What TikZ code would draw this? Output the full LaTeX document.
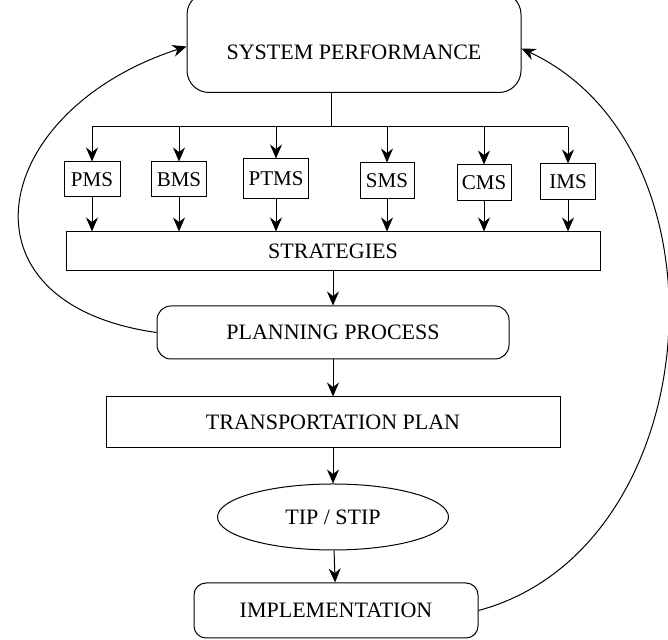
\documentclass[tikz,border=0pt]{standalone}
\usepackage{fontspec}
\setmainfont{Liberation Serif}
\usepackage{tikz}
\usetikzlibrary{calc,positioning,shapes,arrows.meta}

\begin{document}
\begin{tikzpicture}[x=0.5pt, y=0.5pt, line width=0.5pt, >={Stealth[length=7pt,width=6pt]}, font=\fontsize{11}{13}\selectfont]
\tikzstyle{blk}=[draw, rectangle, inner sep=2pt]
\tikzstyle{rnd}=[draw, rectangle, rounded corners=7pt, inner sep=2pt]
\tikzstyle{sub}=[draw, rectangle, inner sep=2pt, font=\fontsize{10.5}{12}\selectfont]
\useasboundingbox (0,0) rectangle (668,640);
\node[rnd, rounded corners=11pt, minimum width=167pt, text height=31.5pt, text depth=14.5pt, anchor=south] (sp) at (354,547) {SYSTEM PERFORMANCE};
\foreach \n/\t/\x/\y/\w/\h in {pms/PMS/92/460.5/28/17.5, bms/BMS/179/460.5/27.5/17.5, ptms/PTMS/276/461/32.5/20, sms/SMS/387/459/27/18, cms/CMS/484/457/27/18, ims/IMS/568/458/27.5/18}{\node[sub, minimum width=\w pt, minimum height=\h pt] (\n) at (\x,\y) {\t};}
\node[blk, minimum width=267pt, minimum height=19.5pt] (strat) at (333,388.5) {STRATEGIES};
\node[rnd, minimum width=176pt, minimum height=26.5pt] (plan) at (333,307.5) {PLANNING PROCESS};
\node[blk, minimum width=227pt, minimum height=25.5pt] (trans) at (333,217.5) {TRANSPORTATION PLAN};
\node[draw, ellipse, inner sep=1pt, minimum width=115.5pt, minimum height=33pt] (tip) at (333,123) {TIP / STIP};
\node[rnd, rounded corners=6pt, minimum width=142pt, minimum height=27.5pt] (impl) at (336,29.5) {IMPLEMENTATION};
% management systems
\coordinate (bus) at (331,513);
\draw (sp.south -| bus) -- (bus);
\draw (bus -| pms) -- (bus -| ims);
\foreach \n in {pms,bms,ptms,sms,cms,ims}{\draw[->] (bus -| \n) -- (\n); \draw[->] (\n) -- (\n |- strat.north);}
% main chain
\foreach \i/\j in {strat/plan,plan/trans,trans/tip,tip/impl}{\draw[->] (\i) -- (\j);}
% feedback
\draw[->] (plan.west) to[out=172,in=198,looseness=1.85] ([yshift=-2pt]sp.west);
\draw[->] (impl.east) to[out=15,in=-25,looseness=1.08] ([yshift=-3pt]sp.east);
\end{tikzpicture}
\end{document}
